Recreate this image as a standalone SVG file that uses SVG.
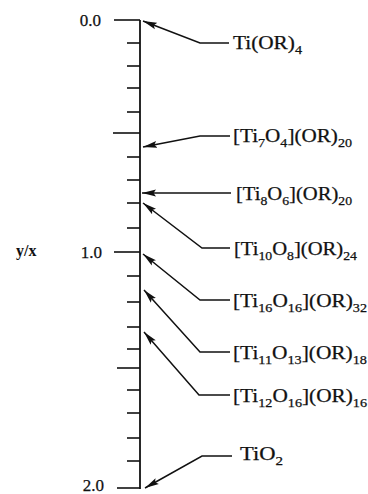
<svg xmlns="http://www.w3.org/2000/svg" width="368" height="494" viewBox="0 0 368 494">
<style>
  .ax{stroke:#111;stroke-width:1.8;fill:none}
  .tk{stroke:#111;stroke-width:1.6;fill:none}
  .cn{stroke:#111;stroke-width:1.5;fill:none;marker-end:url(#ah)}
  .lb{font-family:"Liberation Serif","Times New Roman",serif;font-size:18px;fill:#111;stroke:#111;stroke-width:0.25}
  .s{font-size:12px}
  .num{font-family:"Liberation Serif","Times New Roman",serif;font-size:17px;fill:#111;text-anchor:end;stroke:#111;stroke-width:0.25}
  .yx{font-family:"Liberation Serif","Times New Roman",serif;font-size:16px;font-weight:bold;fill:#111}
</style>
<defs>
  <marker id="ah" markerUnits="userSpaceOnUse" markerWidth="15" markerHeight="8" refX="14" refY="4" orient="auto">
    <path d="M0,0.6 L14,4 L0,7.4 L2.5,4 z" fill="#111"/>
  </marker>
</defs>
<g id="axis">
  <line class="ax" x1="140" y1="20" x2="140" y2="489"/>
  <g class="tk">
    <line x1="114" y1="20" x2="140" y2="20"/>
    <line x1="127" y1="43" x2="140" y2="43"/>
    <line x1="127" y1="66" x2="140" y2="66"/>
    <line x1="127" y1="88" x2="140" y2="88"/>
    <line x1="127" y1="112" x2="140" y2="112"/>
    <line x1="113" y1="133" x2="140" y2="133"/>
    <line x1="127" y1="157" x2="140" y2="157"/>
    <line x1="127" y1="180" x2="140" y2="180"/>
    <line x1="127" y1="203" x2="140" y2="203"/>
    <line x1="127" y1="228" x2="140" y2="228"/>
    <line x1="114" y1="252" x2="140" y2="252"/>
    <line x1="127" y1="276" x2="140" y2="276"/>
    <line x1="127" y1="302" x2="140" y2="302"/>
    <line x1="127" y1="327" x2="140" y2="327"/>
    <line x1="127" y1="349" x2="140" y2="349"/>
    <line x1="117" y1="368" x2="140" y2="368"/>
    <line x1="127" y1="390" x2="140" y2="390"/>
    <line x1="127" y1="413" x2="140" y2="413"/>
    <line x1="127" y1="438" x2="140" y2="438"/>
    <line x1="127" y1="461" x2="140" y2="461"/>
    <line x1="117" y1="488" x2="140" y2="488"/>
  </g>
  <text class="num" x="101" y="26">0.0</text>
  <text class="num" x="102" y="258">1.0</text>
  <text class="num" x="104" y="491">2.0</text>
  <text class="yx" x="16" y="256">y/x</text>
</g>
<g id="connectors">
  <path class="cn" d="M229,43 L200,43 L143,21"/>
  <path class="cn" d="M230,136 L200,136 L143,147"/>
  <path class="cn" d="M231,193 L142,193"/>
  <path class="cn" d="M230,248 L202,248 L143,203"/>
  <path class="cn" d="M230,300 L200,300 L143,254"/>
  <path class="cn" d="M230,352 L200,352 L144,290"/>
  <path class="cn" d="M230,395 L199,395 L144,332"/>
  <path class="cn" d="M232,456 L202,456 L145,488"/>
</g>
<g id="n1"><text class="lb" x="233" y="49" textLength="69" lengthAdjust="spacingAndGlyphs">Ti(OR)<tspan class="s" dy="5">4</tspan></text></g>
<g id="n2"><text class="lb" x="233" y="142" textLength="119" lengthAdjust="spacingAndGlyphs">[Ti<tspan class="s" dy="5">7</tspan><tspan dy="-5">O</tspan><tspan class="s" dy="5">4</tspan><tspan dy="-5">](OR)</tspan><tspan class="s" dy="5">20</tspan></text></g>
<g id="n3"><text class="lb" x="236" y="200" textLength="116" lengthAdjust="spacingAndGlyphs">[Ti<tspan class="s" dy="5">8</tspan><tspan dy="-5">O</tspan><tspan class="s" dy="5">6</tspan><tspan dy="-5">](OR)</tspan><tspan class="s" dy="5">20</tspan></text></g>
<g id="n4"><text class="lb" x="234" y="255" textLength="123" lengthAdjust="spacingAndGlyphs">[Ti<tspan class="s" dy="5">10</tspan><tspan dy="-5">O</tspan><tspan class="s" dy="5">8</tspan><tspan dy="-5">](OR)</tspan><tspan class="s" dy="5">24</tspan></text></g>
<g id="n5"><text class="lb" x="233" y="307" textLength="134" lengthAdjust="spacingAndGlyphs">[Ti<tspan class="s" dy="5">16</tspan><tspan dy="-5">O</tspan><tspan class="s" dy="5">16</tspan><tspan dy="-5">](OR)</tspan><tspan class="s" dy="5">32</tspan></text></g>
<g id="n6"><text class="lb" x="233" y="359" textLength="134" lengthAdjust="spacingAndGlyphs">[Ti<tspan class="s" dy="5">11</tspan><tspan dy="-5">O</tspan><tspan class="s" dy="5">13</tspan><tspan dy="-5">](OR)</tspan><tspan class="s" dy="5">18</tspan></text></g>
<g id="n7"><text class="lb" x="233" y="402" textLength="134" lengthAdjust="spacingAndGlyphs">[Ti<tspan class="s" dy="5">12</tspan><tspan dy="-5">O</tspan><tspan class="s" dy="5">16</tspan><tspan dy="-5">](OR)</tspan><tspan class="s" dy="5">16</tspan></text></g>
<g id="n8"><text class="lb" x="240" y="460" textLength="43" lengthAdjust="spacingAndGlyphs">TiO<tspan class="s" dy="5">2</tspan></text></g>
</svg>
